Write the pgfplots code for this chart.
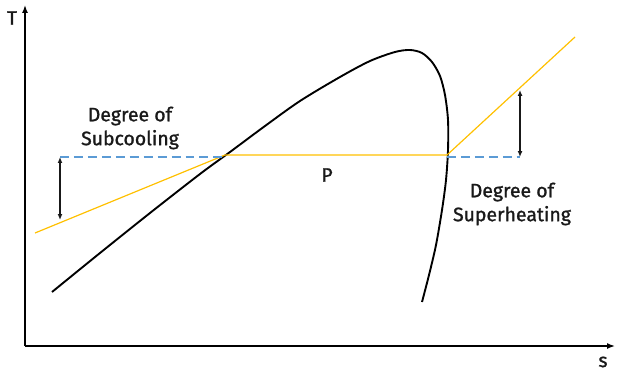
\documentclass[border=0pt]{standalone}
\usepackage{fontspec}
\setmainfont{Fira Sans}
\newfontfamily\lab{Fira Sans}[FakeBold=1.2]
\usepackage{pgfplots}
\pgfplotsset{compat=1.18}
\usetikzlibrary{arrows.meta}
\definecolor{yel}{HTML}{FFC000}
\definecolor{blu}{HTML}{5B9BD5}
\begin{document}
\begin{tikzpicture}
\begin{axis}[
  scale only axis, width=590bp, height=341bp,
  xmin=0, xmax=590, ymin=0, ymax=341,
  axis lines=left, xtick=\empty, ytick=\empty,
  axis line style={line width=1.5pt},
  x axis line style={-{Latex[length=8pt,width=6pt]}},
  y axis line style={-{Latex[length=8pt,width=6pt]}},
  clip=false,
]
\path (axis cs:-25,-25) rectangle (axis cs:593,346);
% saturation dome
\addplot[black, line width=1.9pt, smooth, tension=0.5] coordinates {
(27,54) (75,93) (125,133) (175,172) (205,194) (240,220) (275,245) (315,269)
(345,285) (370,294) (385,296) (397,293) (407,284) (415,270) (420,251)
(423,226) (423,196) (421,166) (417,136) (411,101) (404,71) (397,44)};
% pressure line
\addplot[yel, line width=1.2pt] coordinates {(10,113) (200,191) (422,191) (550,309)};
% dashed references
\addplot[blu, line width=1.6pt, dash pattern=on 9pt off 5pt] coordinates {(35,189) (200,189)};
\addplot[blu, line width=1.6pt, dash pattern=on 9pt off 5pt] coordinates {(422,189) (495,189)};
% double arrows
\addplot[black!90, line width=1.3pt, {Latex[length=6pt,width=5pt]}-{Latex[length=6pt,width=5pt]}] coordinates {(35,189) (35,126)};
\addplot[black!90, line width=1.3pt, {Latex[length=6pt,width=5pt]}-{Latex[length=6pt,width=5pt]}] coordinates {(495,189) (495,256)};
% labels
\node[font=\lab\fontsize{19.5}{24}\selectfont, align=center, text=black!90] at (axis cs:105,218) {Degree of\\Subcooling};
\node[font=\lab\fontsize{19.5}{24}\selectfont, align=center, text=black!90] at (axis cs:487,142) {Degree of\\Superheating};
\node[font=\lab\fontsize{19.5}{24}\selectfont, text=black!90] at (axis cs:302,171) {P};
\node[font=\lab\fontsize{19.5}{24}\selectfont, text=black!90] at (axis cs:-13,328) {T};
\node[font=\lab\fontsize{19.5}{24}\selectfont, text=black!90] at (axis cs:578,-16) {s};
\end{axis}
\end{tikzpicture}
\end{document}
